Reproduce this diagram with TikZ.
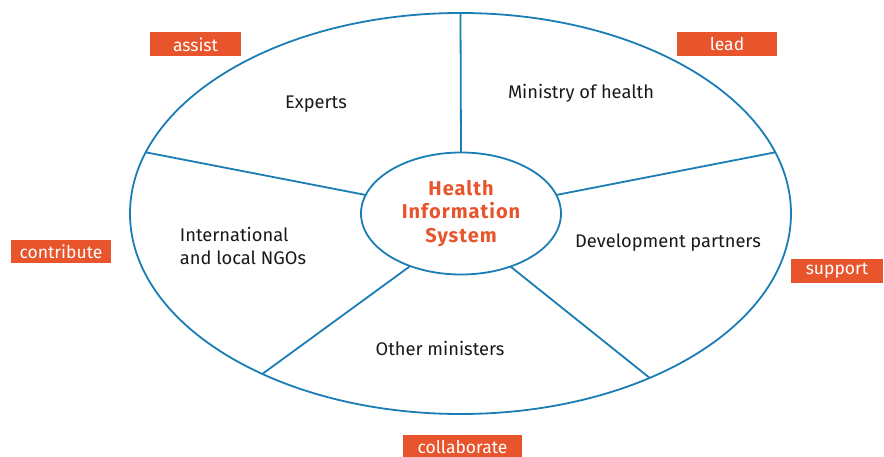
\documentclass[tikz,border=0pt]{standalone}
\usepackage{fontspec}
\setmainfont{Fira Sans}
\usetikzlibrary{positioning,shapes.geometric}
\definecolor{hisblue}{HTML}{1A7DB5}
\definecolor{hisorange}{HTML}{E8552C}
\tikzstyle{ring} = [ellipse, draw=hisblue, line width=1.8pt, inner sep=0pt, outer sep=0pt]
\tikzstyle{actor} = [text centered, font=\fontsize{18.3}{23}\selectfont, text=black!90]
\tikzstyle{role} = [rectangle, fill=hisorange, text=white, minimum height=24pt, inner sep=0pt, font=\fontsize{17.5}{20}\selectfont]
\tikzstyle{spoke} = [draw=hisblue, line width=1.8pt]

\begin{document}
\begin{tikzpicture}[x=1pt, y=-1pt]
            \useasboundingbox (0,0) rectangle (884,457);

            % Rings
            \node (outer) [ring, minimum width=661pt, minimum height=401pt] at (460.5,213.5) {};
            \node (his) [ring, minimum width=200pt, minimum height=122pt, align=center, text=hisorange,
                         font=\fontsize{20}{23.5}\selectfont\bfseries\addfontfeatures{LetterSpace=5}] at (461,213.5) {Health\\Information\\System};

            % Actors
            \node (experts) [actor] at (316,104) {Experts};
            \node (ministry) [actor] at (581,93) {Ministry of health};
            \node (ngos) [actor, align=left] at (243,246) {International\\and local NGOs};
            \node (partners) [actor] at (668,243) {Development partners};
            \node (others) [actor] at (440,348) {Other ministers};

            % Roles
            \node (assist) [role, minimum width=91pt] at (195.5,44.5) {assist};
            \node (lead) [role, minimum width=100pt] at (727,44.5) {lead};
            \node (contribute) [role, minimum width=100pt, minimum height=23pt] at (61,251.5) {contribute};
            \node (support) [role, minimum width=92pt] at (837,271) {support};
            \node (collaborate) [role, minimum width=119pt] at (462.5,447) {collaborate};

            % Spokes
            \draw [spoke] (outer.90) -- (his.90);
            \draw [spoke] (outer.169.2) -- (his.169.8);
            \draw [spoke] (outer.11.1) -- (his.11.8);
            \draw [spoke] (outer.219.8) -- (his.226.2);
            \draw [spoke] (outer.319.7) -- (his.313);
        \end{tikzpicture}
\end{document}
